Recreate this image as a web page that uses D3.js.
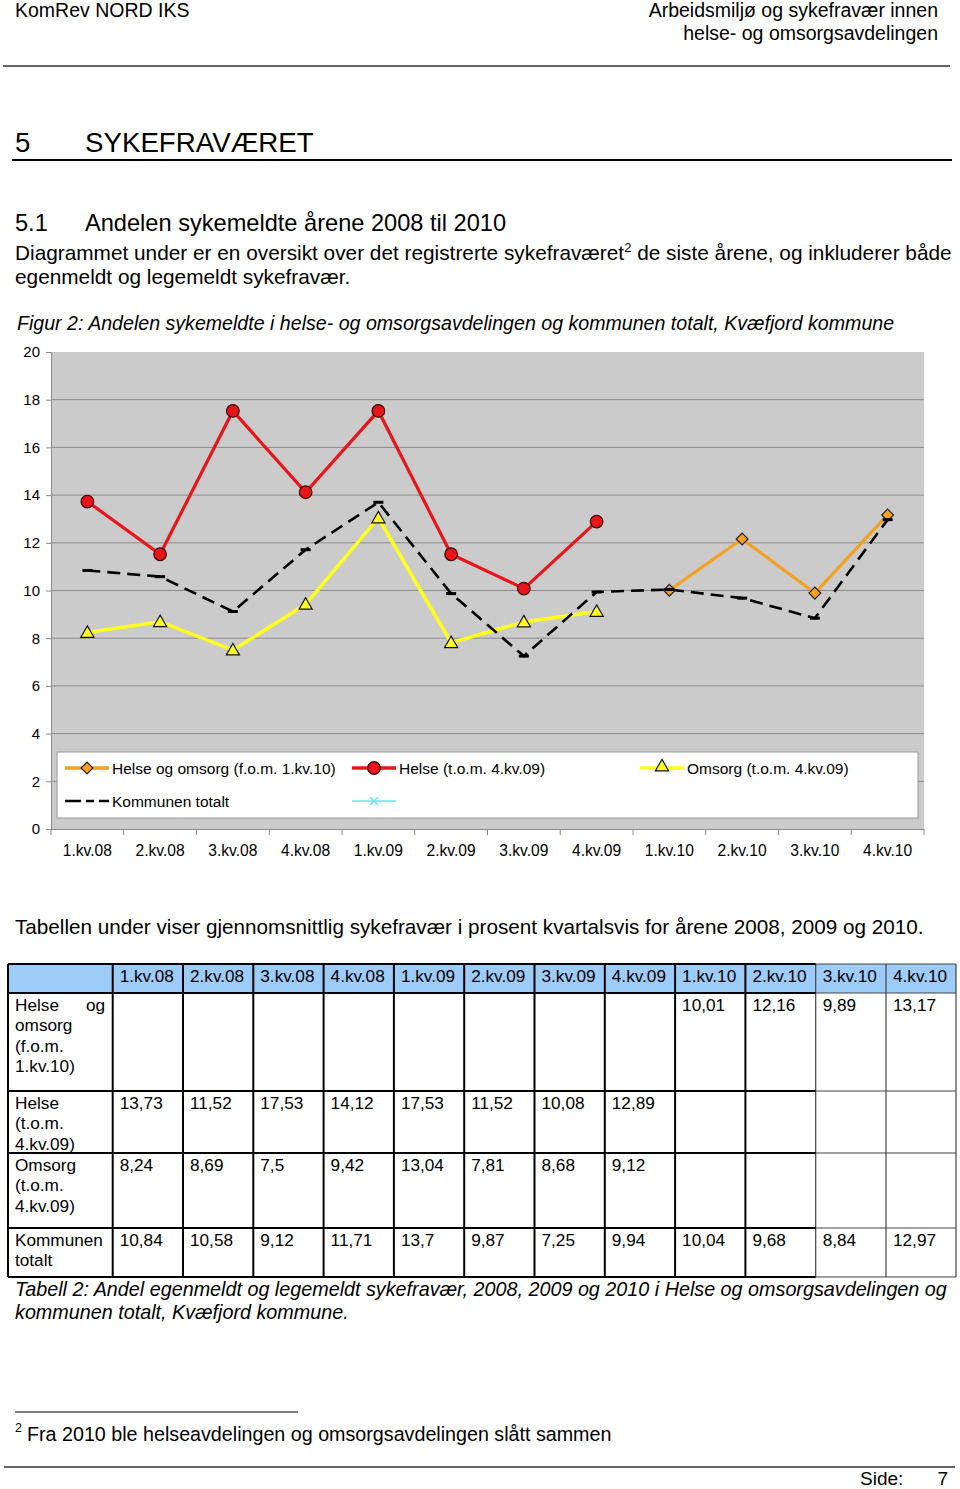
<!DOCTYPE html>
<html><head><meta charset="utf-8">
<script src="https://cdnjs.cloudflare.com/ajax/libs/d3/7.8.5/d3.min.js"></script>
<style>
html,body{margin:0;padding:0;background:#fff;}
svg{display:block;font-family:"Liberation Sans",Arial,Helvetica,sans-serif;}
</style></head>
<body>
<svg id="page" width="960" height="1489"></svg>
<script>
// ---------- data ----------
const quarters = ["1.kv.08","2.kv.08","3.kv.08","4.kv.08","1.kv.09","2.kv.09","3.kv.09","4.kv.09","1.kv.10","2.kv.10","3.kv.10","4.kv.10"];
const helseOgOmsorg = [null,null,null,null,null,null,null,null,10.01,12.16,9.89,13.17];
const helse = [13.73,11.52,17.53,14.12,17.53,11.52,10.08,12.89,null,null,null,null];
const omsorg = [8.24,8.69,7.5,9.42,13.04,7.81,8.68,9.12,null,null,null,null];
const kommunen = [10.84,10.58,9.12,11.71,13.7,9.87,7.25,9.94,10.04,9.68,8.84,12.97];
const yTicks = [0,2,4,6,8,10,12,14,16,18,20];
const seriesNames = ["Helse og omsorg (f.o.m. 1.kv.10)","Helse (t.o.m. 4.kv.09)","Omsorg (t.o.m. 4.kv.09)","Kommunen totalt",""];
const rowLabels = ["Helse og\nomsorg\n(f.o.m.\n1.kv.10)","Helse\n(t.o.m.\n4.kv.09)","Omsorg\n(t.o.m.\n4.kv.09)","Kommunen\ntotalt"];

const svg = d3.select("#page");
const FONT = '"Liberation Sans",Arial,Helvetica,sans-serif';

// ---------- page text ----------
function txt(x, y, s, size, opts = {}) {
  const t = svg.append("text").attr("x", x).attr("y", y).attr("font-size", size).attr("fill", "#000").text(s);
  if (opts.anchor) t.attr("text-anchor", opts.anchor);
  if (opts.italic) t.attr("font-style", "italic");
  return t;
}
txt(15, 17, "KomRev NORD IKS", 19.5);
txt(938, 17, "Arbeidsmiljø og sykefravær innen", 19.5, {anchor: "end"});
txt(938, 40, "helse- og omsorgsavdelingen", 19.5, {anchor: "end"});
svg.append("line").attr("x1", 3).attr("x2", 950).attr("y1", 66).attr("y2", 66).attr("stroke", "#333").attr("stroke-width", 1.5);

txt(15, 152, "5", 27.7);
txt(85, 152, "SYKEFRAVÆRET", 27.7);
svg.append("line").attr("x1", 12).attr("x2", 952).attr("y1", 160).attr("y2", 160).attr("stroke", "#000").attr("stroke-width", 2);

txt(15, 231, "5.1", 23.6);
txt(85, 231, "Andelen sykemeldte årene 2008 til 2010", 23.6);

const b1 = txt(15, 260, "Diagrammet under er en oversikt over det registrerte sykefraværet", 20.8);
b1.append("tspan").attr("font-size", 13).attr("dy", -8).text("2");
b1.append("tspan").attr("dy", 8).text(" de siste årene, og inkluderer både");
txt(15, 284, "egenmeldt og legemeldt sykefravær.", 20.8);

txt(17, 330, "Figur 2: Andelen sykemeldte i helse- og omsorgsavdelingen og kommunen totalt, Kvæfjord kommune", 19.6, {italic: true});

// ---------- chart ----------
const x = d3.scaleBand().domain(quarters).range([51, 924]);
const cx = q => x(q) + x.bandwidth() / 2;
const y = d3.scaleLinear().domain([0, 20]).range([829, 352]);

const g = svg.append("g");
g.append("rect").attr("x", 51).attr("y", y(20)).attr("width", 924 - 51).attr("height", y(0) - y(20)).attr("fill", "#cbcbcb");
// gridlines
g.selectAll("line.grid").data(yTicks.filter(v => v > 0 && v < 20)).join("line")
  .attr("x1", 51).attr("x2", 924).attr("y1", d => y(d)).attr("y2", d => y(d))
  .attr("stroke", "#8a8a8a").attr("stroke-width", 1);

// axes
const yAxis = d3.axisLeft(y).tickValues(yTicks).tickSize(5).tickPadding(6).tickFormat(d3.format("d"));
const ya = g.append("g").attr("transform", "translate(51,0)").call(yAxis);
ya.select(".domain").attr("stroke", "#8a8a8a");
ya.selectAll(".tick line").attr("stroke", "#8a8a8a");
ya.selectAll("text").attr("font-size", 15).attr("font-family", FONT).attr("fill", "#000");

const xAxis = d3.axisBottom(x).tickSize(0).tickPadding(0);
const xa = g.append("g").attr("transform", "translate(0,829)").call(xAxis);
xa.select(".domain").attr("stroke", "#8a8a8a");
xa.selectAll("text").attr("font-size", 15.6).attr("font-family", FONT).attr("fill", "#000").attr("dy", null).attr("y", 27);
// boundary ticks
g.selectAll("line.bt").data(quarters.concat(["end"])).join("line")
  .attr("x1", (d, i) => 51 + i * x.step()).attr("x2", (d, i) => 51 + i * x.step())
  .attr("y1", 829).attr("y2", 835).attr("stroke", "#8a8a8a");

// legend box
const lg = g.append("g");
lg.append("rect").attr("x", 57).attr("y", 752).attr("width", 861).attr("height", 66).attr("fill", "#fff").attr("stroke", "#9a9a9a");

const ORANGE = "#f4a020", RED = "#e8151b", YELLOW = "#ffff1e", BLACK = "#000";

function drawLine(data, color, width, dash) {
  const line = d3.line().defined(d => d.v != null).x(d => cx(d.q)).y(d => y(d.v));
  g.append("path").datum(quarters.map((q, i) => ({q, v: data[i]})))
    .attr("d", line).attr("fill", "none").attr("stroke", color).attr("stroke-width", width)
    .attr("stroke-dasharray", dash || null).attr("stroke-linejoin", "miter");
}
function pts(data) { return quarters.map((q, i) => ({q, v: data[i]})).filter(d => d.v != null); }

const tri = d3.symbol().type(d3.symbolTriangle).size(75);

function diamondMarkers(data, parent, at) {
  (parent || g).selectAll(null).data(at || pts(data)).join("path")
    .attr("d", d3.symbol().type(d3.symbolSquare).size(70)())
    .attr("transform", d => `translate(${d.px ?? cx(d.q)},${d.py ?? y(d.v)}) rotate(45)`)
    .attr("fill", ORANGE).attr("stroke", "#222").attr("stroke-width", 1.2);
}
function circleMarkers(data, parent, at) {
  (parent || g).selectAll(null).data(at || pts(data)).join("circle")
    .attr("cx", d => d.px ?? cx(d.q)).attr("cy", d => d.py ?? y(d.v)).attr("r", 6.3)
    .attr("fill", RED).attr("stroke", "#3a0000").attr("stroke-width", 1.2);
}
function triMarkers(data, parent, at) {
  (parent || g).selectAll(null).data(at || pts(data)).join("path")
    .attr("d", tri()).attr("transform", d => `translate(${d.px ?? cx(d.q)},${(d.py ?? y(d.v)) + 1})`)
    .attr("fill", YELLOW).attr("stroke", "#111").attr("stroke-width", 1.2);
}
function dashMarkers(data, parent, at) {
  (parent || g).selectAll(null).data(at || pts(data)).join("line")
    .attr("x1", d => (d.px ?? cx(d.q)) - 5).attr("x2", d => (d.px ?? cx(d.q)) + 5)
    .attr("y1", d => d.py ?? y(d.v)).attr("y2", d => d.py ?? y(d.v))
    .attr("stroke", BLACK).attr("stroke-width", 3);
}

drawLine(helseOgOmsorg, ORANGE, 3.2);
drawLine(helse, RED, 3.2);
drawLine(omsorg, YELLOW, 3.5);
drawLine(kommunen, BLACK, 2.6, "13,7");
diamondMarkers(helseOgOmsorg);
circleMarkers(helse);
triMarkers(omsorg);
dashMarkers(kommunen);

// legend entries
const legendPos = [[65, 768], [352, 768], [640, 768], [65, 801], [352, 801]];
const legendStyle = [
  {color: ORANGE, w: 3.5, m: diamondMarkers},
  {color: RED, w: 3.5, m: circleMarkers},
  {color: YELLOW, w: 3.5, m: triMarkers},
  {color: BLACK, w: 2.6, dash: "16,5,8,5,16", m: null},
  {color: "#5fe8ee", w: 1.5, m: "x"}
];
seriesNames.forEach((name, i) => {
  const [lx, ly] = legendPos[i];
  const st = legendStyle[i];
  lg.append("line").attr("x1", lx).attr("x2", lx + 44).attr("y1", ly).attr("y2", ly)
    .attr("stroke", st.color).attr("stroke-width", st.w).attr("stroke-dasharray", st.dash || null);
  if (typeof st.m === "function") st.m(null, lg, [{px: lx + 22, py: ly - (st.m === triMarkers ? 2 : 0)}]);
  if (st.m === "x") {
    lg.append("path").attr("d", `M${lx+18},${ly-4}L${lx+26},${ly+4}M${lx+26},${ly-4}L${lx+18},${ly+4}`)
      .attr("stroke", "#5fe8ee").attr("stroke-width", 1.5);
  }
  if (name) lg.append("text").attr("x", lx + 47).attr("y", ly + 6).attr("font-size", 15.5).text(name);
});

// ---------- text between ----------
txt(15, 934, "Tabellen under viser gjennomsnittlig sykefravær i prosent kvartalsvis for årene 2008, 2009 og 2010.", 20.7);

// ---------- table ----------
const colX = [8].concat(quarters.map((q, i) => 112.7 + i * 70.3)).concat([956]);
const rowY = [964, 993, 1091, 1153, 1228, 1277];
const tableSeries = [helseOgOmsorg, helse, omsorg, kommunen];
const fmt = v => v == null ? "" : String(v).replace(".", ",");
const tg = svg.append("g").attr("font-size", 17.2);
// header fill
tg.append("rect").attr("x", colX[0]).attr("y", rowY[0]).attr("width", colX[13] - colX[0]).attr("height", rowY[1] - rowY[0]).attr("fill", "#9dccf8");
// header text
tg.selectAll("text.h").data(quarters).join("text").attr("x", (d, i) => colX[i + 1] + 7).attr("y", rowY[0] + 17.5).text(d => d);
// row labels
rowLabels.forEach((lab, r) => {
  const lines = lab.split("\n");
  lines.forEach((ln, k) => {
    const yy = rowY[r + 1] + 17.5 + k * 20.6;
    if (r === 0 && k === 0) {
      const parts = ln.split(" ");
      tg.append("text").attr("x", 15).attr("y", yy).text(parts[0]);
      tg.append("text").attr("x", 105).attr("y", yy).attr("text-anchor", "end").text(parts[1]);
    } else {
      tg.append("text").attr("x", 15).attr("y", yy).text(ln);
    }
  });
  tg.selectAll(null).data(tableSeries[r]).join("text")
    .attr("x", (d, i) => colX[i + 1] + 7).attr("y", rowY[r + 1] + 17.5).text(d => fmt(d));
});
// borders
colX.forEach((cxv, i) => {
  tg.append("line").attr("x1", cxv).attr("x2", cxv).attr("y1", rowY[0]).attr("y2", rowY[5])
    .attr("stroke", i >= 11 ? "#444" : "#000").attr("stroke-width", i >= 11 ? 1.2 : 2);
});
rowY.forEach((ry, j) => {
  tg.append("line").attr("x1", colX[0]).attr("x2", colX[11]).attr("y1", ry).attr("y2", ry).attr("stroke", "#000").attr("stroke-width", 2);
  tg.append("line").attr("x1", colX[11]).attr("x2", colX[13]).attr("y1", ry).attr("y2", ry).attr("stroke", "#444").attr("stroke-width", 1.2);
});

txt(15, 1296, "Tabell 2: Andel egenmeldt og legemeldt sykefravær, 2008, 2009 og 2010 i Helse og omsorgsavdelingen og", 19.75, {italic: true});
txt(15, 1319, "kommunen totalt, Kvæfjord kommune.", 19.75, {italic: true});

// ---------- footnote & footer ----------
svg.append("line").attr("x1", 15).attr("x2", 298).attr("y1", 1412).attr("y2", 1412).attr("stroke", "#000").attr("stroke-width", 1);
txt(15, 1432, "2", 12.5);
txt(27, 1441, "Fra 2010 ble helseavdelingen og omsorgsavdelingen slått sammen", 19.7);
svg.append("line").attr("x1", 4).attr("x2", 955).attr("y1", 1467).attr("y2", 1467).attr("stroke", "#333").attr("stroke-width", 1.5);
txt(860, 1485, "Side:", 19);
txt(948, 1485, "7", 19, {anchor: "end"});
</script>
</body></html>
